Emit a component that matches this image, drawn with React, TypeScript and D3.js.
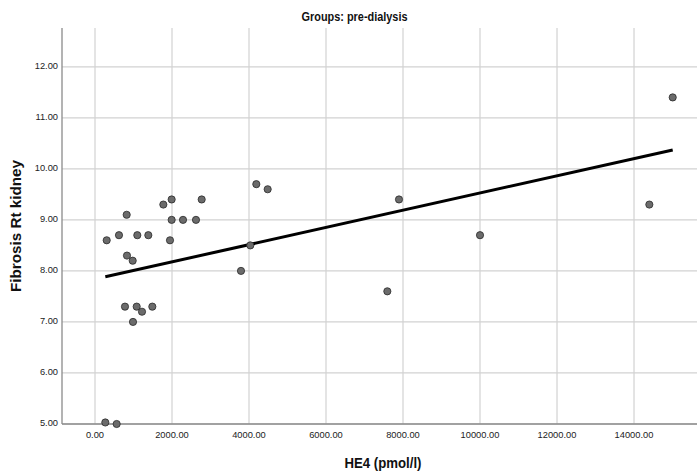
import React from "react";
import * as d3 from "d3";

const he4: number[] = [
  304, 623, 823, 1099, 1385, 1948, 1775, 1991, 1991, 2286, 2623, 2771, 4190, 4485,
  831, 979, 779, 1083, 1221, 1489, 987, 3792, 4034, 268, 563,
  7896, 10000, 14398, 15005, 7593,
];
const fibrosis: number[] = [
  8.6, 8.7, 9.1, 8.7, 8.7, 8.6, 9.3, 9.4, 9.0, 9.0, 9.0, 9.4, 9.7, 9.6,
  8.3, 8.2, 7.3, 7.3, 7.2, 7.3, 7.0, 8.0, 8.5, 5.03, 5.0,
  9.4, 8.7, 9.3, 11.4, 7.6,
];
const xTicks: number[] = [0, 2000, 4000, 6000, 8000, 10000, 12000, 14000];
const yTicks: number[] = [5, 6, 7, 8, 9, 10, 11, 12];
const fitIntercept = 7.84;
const fitSlope = 0.0001686;

const title = "Groups: pre-dialysis";
const xLabel = "HE4 (pmol/l)";
const yLabel = "Fibrosis Rt kidney";

export default function App() {
  const W = 697;
  const H = 475;
  const left = 62;
  const right = 697;
  const top = 28;
  const bottom = 424;

  const x = d3.scaleLinear().domain([-857, 15636]).range([left, right]);
  const y = d3.scaleLinear().domain([5, 12.76]).range([bottom, top]);

  const pts = he4.map((v, i) => ({ x: v, y: fibrosis[i] }));
  const ext = d3.extent(he4) as [number, number];
  const line = d3
    .line<number>()
    .x((d) => x(d))
    .y((d) => y(fitIntercept + fitSlope * d));

  const fmt = d3.format(".2f");
  const tickFont = "'Liberation Sans', Arial, sans-serif";

  return (
    <svg
      width={W}
      height={H}
      style={{ position: "absolute", left: 0, top: 0, background: "#fff" }}
    >
      <rect x={0} y={0} width={W} height={H} fill="#fff" />
      {/* grid */}
      {yTicks.map((t) => (
        <line
          key={"gy" + t}
          x1={left}
          x2={right}
          y1={y(t)}
          y2={y(t)}
          stroke="#d2d2d2"
          strokeWidth={1.2}
        />
      ))}
      {xTicks.map((t) => (
        <line
          key={"gx" + t}
          x1={x(t)}
          x2={x(t)}
          y1={top}
          y2={bottom}
          stroke="#d2d2d2"
          strokeWidth={1.2}
        />
      ))}
      {/* axes */}
      <line x1={left} x2={left} y1={top} y2={bottom} stroke="#8a8a8a" strokeWidth={1.3} />
      <line x1={left} x2={right} y1={bottom} y2={bottom} stroke="#8a8a8a" strokeWidth={1.3} />
      {/* tick labels */}
      {yTicks.map((t) => (
        <text
          key={"ty" + t}
          x={58}
          y={y(t)}
          textAnchor="end"
          dominantBaseline="middle"
          fontFamily={tickFont}
          fontSize={9.3}
          fill="#222"
        >
          {fmt(t)}
        </text>
      ))}
      {xTicks.map((t) => (
        <text
          key={"tx" + t}
          x={x(t)}
          y={436}
          textAnchor="middle"
          dominantBaseline="middle"
          fontFamily={tickFont}
          fontSize={9.3}
          fill="#222"
        >
          {fmt(t)}
        </text>
      ))}
      {/* fit line */}
      <path d={line(ext) || ""} fill="none" stroke="#000" strokeWidth={3} />
      {/* points */}
      {pts.map((p, i) => (
        <circle
          key={"p" + i}
          cx={x(p.x)}
          cy={y(p.y)}
          r={3.6}
          fill="#6b6b6b"
          stroke="#2a2a2a"
          strokeWidth={0.8}
        />
      ))}
      {/* title */}
      <text
        x={354.5}
        y={18}
        textAnchor="middle"
        dominantBaseline="middle"
        fontFamily="'Liberation Sans Narrow', 'Liberation Sans', Arial, sans-serif"
        fontWeight="bold"
        fontSize={12.5}
        fill="#111"
        textLength={106}
        lengthAdjust="spacingAndGlyphs"
      >
        {title}
      </text>
      {/* x label */}
      <text
        x={383}
        y={464}
        textAnchor="middle"
        dominantBaseline="middle"
        fontFamily={tickFont}
        fontWeight="bold"
        fontSize={15}
        fill="#111"
        textLength={77}
        lengthAdjust="spacingAndGlyphs"
      >
        {xLabel}
      </text>
      {/* y label */}
      <text
        transform={`translate(17.5,226) rotate(-90)`}
        textAnchor="middle"
        dominantBaseline="middle"
        fontFamily={tickFont}
        fontWeight="bold"
        fontSize={15}
        fill="#111"
        textLength={132}
        lengthAdjust="spacingAndGlyphs"
      >
        {yLabel}
      </text>
    </svg>
  );
}
